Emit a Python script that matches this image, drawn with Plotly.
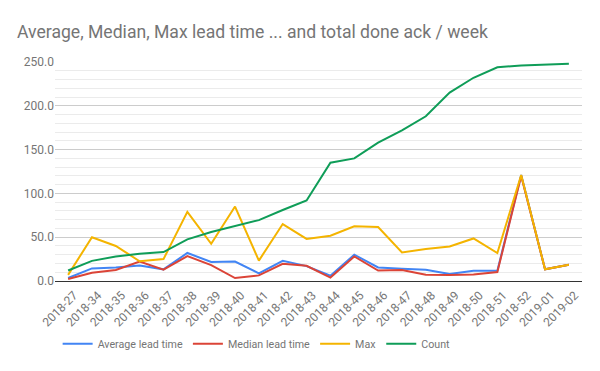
import plotly.graph_objects as go

weeks = ["2018-27", "2018-34", "2018-35", "2018-36", "2018-37", "2018-38", "2018-39",
         "2018-40", "2018-41", "2018-42", "2018-43", "2018-44", "2018-45", "2018-46",
         "2018-47", "2018-48", "2018-49", "2018-50", "2018-51", "2018-52", "2019-01", "2019-02"]

avg_lead = [3.4, 14.4, 15.5, 17.8, 13.3, 32.0, 21.8, 22.2, 8.8, 23.0, 17.0, 6.0,
            30.0, 15.5, 14.0, 12.9, 8.0, 11.7, 11.7, 121.0, 13.3, 18.6]
median_lead = [2.3, 9.5, 12.5, 22.2, 12.9, 28.5, 18.2, 3.4, 6.4, 19.6, 17.4, 3.9,
               28.0, 12.0, 12.5, 7.2, 6.8, 7.5, 10.2, 120.0, 13.3, 18.6]
max_lead = [7.0, 50.0, 40.0, 22.5, 25.0, 79.0, 42.5, 85.0, 23.3, 65.0, 48.0, 51.7,
            62.5, 61.6, 32.6, 36.5, 39.5, 48.6, 31.9, 121.0, 13.3, 18.6]
count = [12, 23, 28, 31, 33, 47.5, 56, 63, 69.5, 81, 92, 135,
         140, 158, 172, 188, 215, 232, 244, 246, 247, 248]

series = [
    ("Average lead time", avg_lead, "#4285F4"),
    ("Median lead time", median_lead, "#DB4437"),
    ("Max", max_lead, "#F4B400"),
    ("Count", count, "#0F9D58"),
]

fig = go.Figure()
for name, vals, color in series:
    fig.add_trace(go.Scatter(x=list(range(len(weeks))), y=vals, name=name, mode="lines",
                             line=dict(color=color, width=2)))

# page body has an 8px default margin, so the figure is laid out 8px up/left
fig.update_layout(
    width=600, height=371,
    margin=dict(l=47, r=26, t=54, b=98, autoexpand=False),
    paper_bgcolor="white", plot_bgcolor="white",
    font=dict(family="Roboto", size=12, color="#757575"),
    title=dict(text="Average, Median, Max lead time ... and total done ack / week",
               x=9 / 600, xanchor="left", y=1 - 24 / 371, yanchor="middle",
               font=dict(family="Roboto", size=17.6, color="#757575")),
    showlegend=True,
    legend=dict(orientation="h", x=0.005, xanchor="left", y=-0.286, yanchor="middle",
                font=dict(family="Roboto", size=10.7, color="#757575"),
                itemwidth=30, traceorder="normal"),
    xaxis=dict(tickmode="array", tickvals=list(range(len(weeks))), ticktext=weeks,
               range=[-0.55, len(weeks) - 1 + 0.55], tickangle=-45, showgrid=False,
               zeroline=False, showline=False, ticks="", automargin=False,
               ticklabelshift=6, ticklabelstandoff=4,
               tickfont=dict(family="Roboto", size=12, color="#757575")),
    yaxis=dict(range=[0, 250], dtick=50, tickformat=".1f", gridcolor="#cccccc",
               gridwidth=1, zeroline=True, zerolinecolor="#333333", zerolinewidth=1,
               showline=False, ticks="", automargin=False,
               tickfont=dict(family="Roboto", size=12, color="#757575"),
               minor=dict(dtick=10, showgrid=True, gridcolor="#ebebeb", gridwidth=1)),
)

fig.write_html("out.html")
